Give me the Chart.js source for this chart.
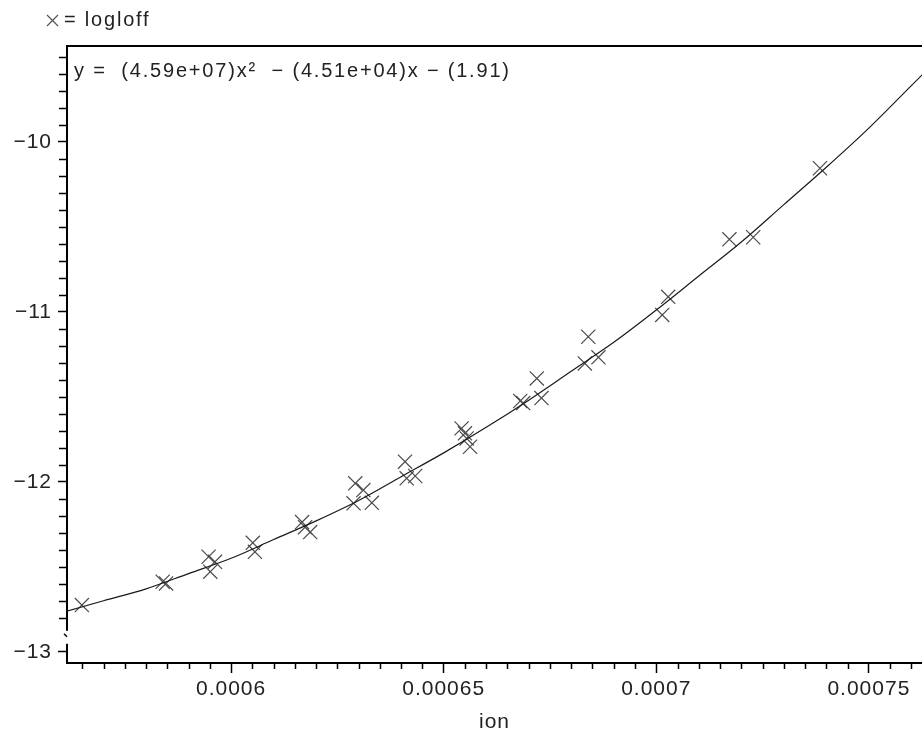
<!DOCTYPE html>
<html>
<head>
<meta charset="utf-8">
<script src="https://cdn.jsdelivr.net/npm/chart.js@4.4.1/dist/chart.umd.min.js"></script>
<style>
  html, body { margin: 0; padding: 0; background: #fff; }
</style>
</head>
<body>
<canvas id="myChart" width="922" height="748"></canvas>
<script>
const ionValues = [
  0.0005649, 0.0005839, 0.0005847, 0.0005947, 0.0005962, 0.0005951,
  0.0006051, 0.0006056, 0.0006167, 0.0006174, 0.0006186, 0.0006292,
  0.0006311, 0.0006288, 0.0006331, 0.0006409, 0.0006413, 0.0006433,
  0.0006542, 0.000655, 0.0006554, 0.0006562, 0.000668, 0.0006687,
  0.000673, 0.0006719, 0.0006832, 0.000684, 0.0006864, 0.0007014,
  0.0007028, 0.0007172, 0.0007228, 0.0007385,
];
const logloffValues = [
  -12.725, -12.588, -12.598, -12.441, -12.471, -12.529,
  -12.359, -12.412, -12.237, -12.267, -12.296, -12.009,
  -12.049, -12.127, -12.124, -11.882, -11.98, -11.966,
  -11.686, -11.715, -11.745, -11.794, -11.525, -11.537,
  -11.508, -11.392, -11.304, -11.147, -11.268, -11.019,
  -10.912, -10.574, -10.562, -10.156,
];

// fitted curve, every 0.00001
const fitIon = [
  0.00056, 0.00057, 0.00058, 0.00059, 0.0006, 0.00061, 0.00062, 0.00063,
  0.00064, 0.00065, 0.00066, 0.00067, 0.00068, 0.00069, 0.0007, 0.00071,
  0.00072, 0.00073, 0.00074, 0.00075, 0.00076, 0.00077,
];
const fitLogloff = [
  -12.77, -12.70, -12.63, -12.54, -12.45, -12.34, -12.23, -12.11,
  -11.97, -11.83, -11.68, -11.52, -11.35, -11.18, -10.99, -10.79,
  -10.59, -10.37, -10.15, -9.92, -9.67, -9.42,
];

const xTickValues = [0.0006, 0.00065, 0.0007, 0.00075];
const xTickLabels = ['0.0006', '0.00065', '0.0007', '0.00075'];
const yTickValues = [-13, -12, -11, -10];
const yTickLabels = ['\u221213', '\u221212', '\u221211', '\u221210'];

const seriesName = 'logloff';
const xTitle = 'ion';
const fitText = 'y =  (4.59e+07)x\u00b2  \u2212 (4.51e+04)x \u2212 (1.91)';

const FONT = '"Liberation Sans", Arial, Helvetica, sans-serif';

// frame top, minor ticks, axis break, legend and fit equation
const decor = {
  id: 'decor',
  beforeDraw(chart) {
    chart.ctx.letterSpacing = '1px';
  },
  afterDraw(chart) {
    const { ctx, chartArea: area, scales: { x, y } } = chart;
    ctx.save();
    ctx.strokeStyle = '#000';
    ctx.lineWidth = 2;
    ctx.beginPath();
    ctx.moveTo(area.left - 1, area.top);
    ctx.lineTo(area.right, area.top);
    ctx.stroke();

    ctx.lineWidth = 1.5;
    ctx.beginPath();
    for (let k = 113; k <= 152; k++) {
      if (k % 10 === 0) continue;
      const px = Math.round(x.getPixelForValue(k * 5e-6)) + 0.5;
      ctx.moveTo(px, area.bottom);
      ctx.lineTo(px, area.bottom + 6);
    }
    for (let k = -130; k <= -95; k++) {
      if (k % 10 === 0) continue;
      const py = Math.round(y.getPixelForValue(k / 10)) + 0.5;
      ctx.moveTo(area.left - 8, py);
      ctx.lineTo(area.left, py);
    }
    ctx.stroke();

    // little break in the y axis just above -13
    const yb = y.getPixelForValue(-12.9);
    ctx.fillStyle = '#fff';
    ctx.fillRect(area.left - 9, yb - 4, 10, 13);
    ctx.lineWidth = 1.5;
    ctx.beginPath();
    ctx.moveTo(area.left - 3, yb - 1);
    ctx.lineTo(area.left, yb + 2);
    ctx.stroke();

    // legend: x = logloff
    ctx.strokeStyle = '#555';
    ctx.lineWidth = 1.2;
    ctx.beginPath();
    ctx.moveTo(47, 15); ctx.lineTo(58, 26);
    ctx.moveTo(47, 26); ctx.lineTo(58, 15);
    ctx.stroke();
    ctx.fillStyle = '#222';
    ctx.font = '20px ' + FONT;
    ctx.letterSpacing = '1.8px';
    ctx.textBaseline = 'middle';
    ctx.textAlign = 'left';
    ctx.fillText('= ' + seriesName, 64, 20);
    ctx.fillText(fitText, 74, 71);
    ctx.restore();
  }
};

new Chart(document.getElementById('myChart'), {
  type: 'scatter',
  data: {
    datasets: [
      {
        type: 'line',
        label: 'fit',
        data: fitIon.map((v, i) => ({ x: v, y: fitLogloff[i] })),
        borderColor: '#1a1a1a',
        borderWidth: 1.2,
        pointRadius: 0,
        cubicInterpolationMode: 'monotone',
        fill: false,
      },
      {
        label: seriesName,
        data: ionValues.map((v, i) => ({ x: v, y: logloffValues[i] })),
        pointStyle: 'crossRot',
        pointRadius: 10,
        borderColor: '#4a4a4a',
        borderWidth: 1.2,
      },
    ],
  },
  options: {
    responsive: false,
    animation: false,
    events: [],
    layout: {
      autoPadding: false,
      padding: { top: 46, left: 0, right: 0, bottom: 0 },
    },
    plugins: {
      legend: { display: false },
      tooltip: { enabled: false },
    },
    scales: {
      x: {
        type: 'linear',
        min: 0.0005614,
        max: 0.0007625,
        afterBuildTicks: (s) => { s.ticks = xTickValues.map((v) => ({ value: v })); },
        afterFit: (s) => {
          s.height = 85;
          s.paddingLeft = 0;
          s.paddingRight = 0;
        },
        ticks: {
          autoSkip: false,
          maxRotation: 0,
          padding: 4,
          color: '#222',
          font: { family: FONT, size: 21 },
          callback: (v) => xTickLabels[xTickValues.indexOf(v)],
        },
        grid: {
          drawOnChartArea: false,
          tickLength: 10,
          tickWidth: 1.5,
          tickColor: '#000',
        },
        border: { color: '#000', width: 2 },
        title: {
          display: true,
          text: xTitle,
          color: '#222',
          font: { family: FONT, size: 21 },
          padding: { top: 0, bottom: 13 },
        },
      },
      y: {
        type: 'linear',
        min: -13.066,
        max: -9.437,
        afterBuildTicks: (s) => { s.ticks = yTickValues.map((v) => ({ value: v })); },
        afterFit: (s) => {
          s.width = 67;
          s.paddingTop = 0;
          s.paddingBottom = 0;
        },
        ticks: {
          autoSkip: false,
          padding: 6,
          color: '#222',
          font: { family: FONT, size: 21 },
          callback: (v) => yTickLabels[yTickValues.indexOf(v)],
        },
        grid: {
          drawOnChartArea: false,
          tickLength: 9,
          tickWidth: 1.5,
          tickColor: '#000',
        },
        border: { color: '#000', width: 2 },
      },
    },
  },
  plugins: [decor],
});
</script>
</body>
</html>
